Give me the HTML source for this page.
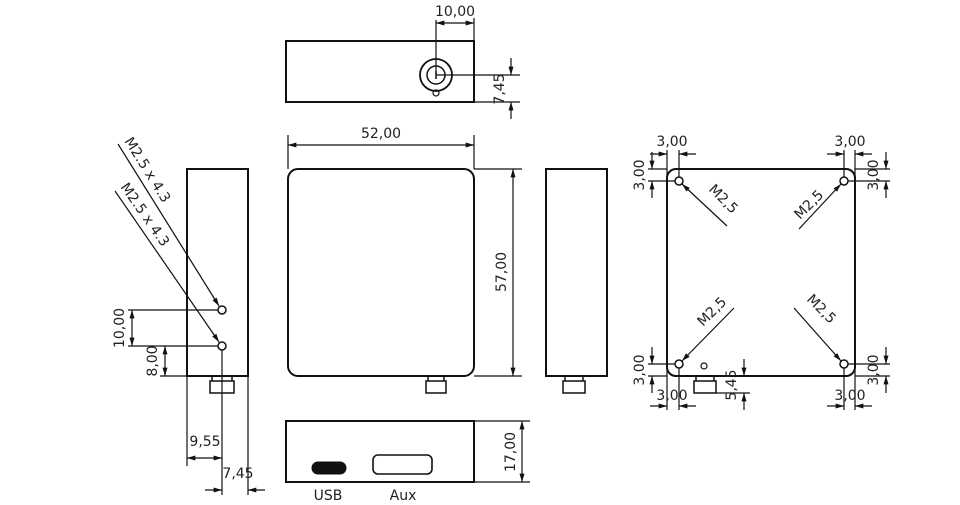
<!DOCTYPE html>
<html><head><meta charset="utf-8"><style>
html,body{margin:0;padding:0;background:#fff;width:960px;height:505px;overflow:hidden}
svg{display:block}
text{font-family:"DejaVu Sans","Liberation Sans",sans-serif;font-size:14px;fill:#222}
</style></head><body>
<svg width="960" height="505" viewBox="0 0 960 505" xmlns="http://www.w3.org/2000/svg">
<defs>
<marker id="a" viewBox="0 0 10 6" refX="10" refY="3" markerWidth="9" markerHeight="5" orient="auto-start-reverse" markerUnits="userSpaceOnUse"><path d="M0,0L10,3L0,6z" fill="#111"/></marker>
</defs>
<g stroke="#111" fill="none">
<!-- top view -->
<rect x="286" y="41" width="188" height="61" stroke-width="2"/>
<circle cx="436" cy="75" r="16" stroke-width="1.8"/>
<circle cx="436" cy="75" r="9" stroke-width="1.5"/>
<line x1="436" y1="71" x2="436" y2="79" stroke-width="1.5"/>
<circle cx="436" cy="93" r="3" stroke-width="1.2"/>
<g stroke-width="1.2">
<line x1="436" y1="75" x2="436" y2="20"/><line x1="474" y1="41" x2="474" y2="18"/>
<line x1="436" y1="23" x2="474" y2="23" marker-start="url(#a)" marker-end="url(#a)"/>
<line x1="436" y1="75" x2="520" y2="75"/><line x1="474" y1="102" x2="520" y2="102"/>
<line x1="511" y1="58" x2="511" y2="75" marker-end="url(#a)"/><line x1="511" y1="119" x2="511" y2="102" marker-end="url(#a)"/>
</g>
<!-- front -->
<rect x="288" y="169" width="186" height="207" rx="10" stroke-width="2"/>
<path d="M428,376v5h-2v12h20v-12h-2v-5M426,381h20" stroke-width="1.5"/>
<g stroke-width="1.2">
<line x1="288" y1="169" x2="288" y2="135"/><line x1="474" y1="169" x2="474" y2="135"/>
<line x1="288" y1="145" x2="474" y2="145" marker-start="url(#a)" marker-end="url(#a)"/>
<line x1="474" y1="169" x2="522" y2="169"/><line x1="474" y1="376" x2="522" y2="376"/>
<line x1="513" y1="169" x2="513" y2="376" marker-start="url(#a)" marker-end="url(#a)"/>
</g>
<!-- right side -->
<rect x="546" y="169" width="61" height="207" stroke-width="2"/>
<path d="M565,376v5h-2v12h22v-12h-2v-5M563,381h22" stroke-width="1.5"/>
<!-- left side -->
<rect x="187" y="169" width="61" height="207" stroke-width="2"/>
<path d="M212,376v5h-2v12h24v-12h-2v-5M210,381h24" stroke-width="1.5"/>
<circle cx="222" cy="310" r="4" stroke-width="1.5"/>
<circle cx="222" cy="346" r="4" stroke-width="1.5"/>
<g stroke-width="1.2">
<line x1="118" y1="144" x2="219" y2="306" marker-end="url(#a)"/>
<line x1="115" y1="191" x2="219" y2="342" marker-end="url(#a)"/>
<line x1="218" y1="310" x2="128" y2="310"/><line x1="218" y1="346" x2="128" y2="346"/>
<line x1="132" y1="310" x2="132" y2="346" marker-start="url(#a)" marker-end="url(#a)"/>
<line x1="187" y1="376" x2="160" y2="376"/>
<line x1="165" y1="346" x2="165" y2="376" marker-start="url(#a)" marker-end="url(#a)"/>
<line x1="187" y1="376" x2="187" y2="466"/><line x1="222" y1="350" x2="222" y2="495"/><line x1="248" y1="376" x2="248" y2="495"/>
<line x1="187" y1="458" x2="222" y2="458" marker-start="url(#a)" marker-end="url(#a)"/>
<line x1="205" y1="490" x2="222" y2="490" marker-end="url(#a)"/><line x1="265" y1="490" x2="248" y2="490" marker-end="url(#a)"/>
</g>
<!-- bottom view -->
<rect x="286" y="421" width="188" height="61" stroke-width="2"/>
<rect x="312" y="462" width="34" height="12" rx="6" fill="#111" stroke-width="1"/>
<rect x="373" y="455" width="59" height="19" rx="5" stroke-width="1.6"/>
<g stroke-width="1.2">
<line x1="474" y1="421" x2="530" y2="421"/><line x1="474" y1="482" x2="530" y2="482"/>
<line x1="522" y1="421" x2="522" y2="482" marker-start="url(#a)" marker-end="url(#a)"/>
</g>
<!-- plate -->
<rect x="667" y="169" width="188" height="207" rx="9" stroke-width="2"/>
<circle cx="679" cy="181" r="4" stroke-width="1.5"/>
<circle cx="844" cy="181" r="4" stroke-width="1.5"/>
<circle cx="679" cy="364" r="4" stroke-width="1.5"/>
<circle cx="844" cy="364" r="4" stroke-width="1.5"/>
<circle cx="704" cy="366" r="3" stroke-width="1.2"/>
<path d="M696,376v5h-2v12h22v-12h-2v-5M694,381h22" stroke-width="1.5"/>
<g stroke-width="1.2">
<line x1="727" y1="226" x2="682" y2="184" marker-end="url(#a)"/>
<line x1="799" y1="229" x2="841" y2="184" marker-end="url(#a)"/>
<line x1="734" y1="308" x2="682" y2="361" marker-end="url(#a)"/>
<line x1="794" y1="308" x2="841" y2="361" marker-end="url(#a)"/>
<line x1="667" y1="181" x2="667" y2="150"/><line x1="679" y1="177" x2="679" y2="150"/>
<line x1="650" y1="154" x2="667" y2="154" marker-end="url(#a)"/><line x1="696" y1="154" x2="679" y2="154" marker-end="url(#a)"/>
<line x1="667" y1="169" x2="648" y2="169"/><line x1="675" y1="181" x2="648" y2="181"/>
<line x1="652" y1="152" x2="652" y2="169" marker-end="url(#a)"/><line x1="652" y1="198" x2="652" y2="181" marker-end="url(#a)"/>
<line x1="855" y1="181" x2="855" y2="150"/><line x1="844" y1="177" x2="844" y2="150"/>
<line x1="827" y1="154" x2="844" y2="154" marker-end="url(#a)"/><line x1="872" y1="154" x2="855" y2="154" marker-end="url(#a)"/>
<line x1="855" y1="169" x2="890" y2="169"/><line x1="848" y1="181" x2="890" y2="181"/>
<line x1="886" y1="152" x2="886" y2="169" marker-end="url(#a)"/><line x1="886" y1="198" x2="886" y2="181" marker-end="url(#a)"/>
<line x1="667" y1="364" x2="667" y2="410"/><line x1="679" y1="368" x2="679" y2="410"/>
<line x1="650" y1="406" x2="667" y2="406" marker-end="url(#a)"/><line x1="696" y1="406" x2="679" y2="406" marker-end="url(#a)"/>
<line x1="675" y1="364" x2="648" y2="364"/><line x1="667" y1="376" x2="648" y2="376"/>
<line x1="652" y1="347" x2="652" y2="364" marker-end="url(#a)"/><line x1="652" y1="393" x2="652" y2="376" marker-end="url(#a)"/>
<line x1="855" y1="364" x2="855" y2="410"/><line x1="844" y1="368" x2="844" y2="410"/>
<line x1="827" y1="406" x2="844" y2="406" marker-end="url(#a)"/><line x1="872" y1="406" x2="855" y2="406" marker-end="url(#a)"/>
<line x1="848" y1="364" x2="890" y2="364"/><line x1="855" y1="376" x2="890" y2="376"/>
<line x1="886" y1="347" x2="886" y2="364" marker-end="url(#a)"/><line x1="886" y1="393" x2="886" y2="376" marker-end="url(#a)"/>
<line x1="716" y1="393" x2="750" y2="393"/>
<line x1="744" y1="359" x2="744" y2="376" marker-end="url(#a)"/><line x1="744" y1="410" x2="744" y2="393" marker-end="url(#a)"/>
</g>
</g>
<!-- text -->
<text x="455" y="16" text-anchor="middle">10,00</text>
<text transform="translate(504,89) rotate(-90)" text-anchor="middle">7,45</text>
<text x="381" y="138" text-anchor="middle">52,00</text>
<text transform="translate(506,272) rotate(-90)" text-anchor="middle">57,00</text>
<text transform="translate(515,452) rotate(-90)" text-anchor="middle">17,00</text>
<text x="328" y="500" text-anchor="middle">USB</text>
<text x="403" y="500" text-anchor="middle">Aux</text>
<text transform="translate(124,141) rotate(58)">M2.5 x 4.3</text>
<text transform="translate(120,187) rotate(55)">M2.5 x 4.3</text>
<text transform="translate(124,328) rotate(-90)" text-anchor="middle">10,00</text>
<text transform="translate(157,361) rotate(-90)" text-anchor="middle">8,00</text>
<text x="205" y="446" text-anchor="middle">9,55</text>
<text x="238" y="478" text-anchor="middle">7,45</text>
<text x="672" y="146" text-anchor="middle">3,00</text>
<text x="850" y="146" text-anchor="middle">3,00</text>
<text x="672" y="400" text-anchor="middle">3,00</text>
<text x="850" y="400" text-anchor="middle">3,00</text>
<text transform="translate(644,175) rotate(-90)" text-anchor="middle">3,00</text>
<text transform="translate(878,175) rotate(-90)" text-anchor="middle">3,00</text>
<text transform="translate(644,370) rotate(-90)" text-anchor="middle">3,00</text>
<text transform="translate(878,370) rotate(-90)" text-anchor="middle">3,00</text>
<text transform="translate(736,385) rotate(-90)" text-anchor="middle">5,45</text>
<text transform="translate(708,190) rotate(45)">M2,5</text>
<text transform="translate(800,220) rotate(-45)">M2,5</text>
<text transform="translate(703,327) rotate(-45)">M2,5</text>
<text transform="translate(806,300) rotate(45)">M2,5</text>
</svg>
</body></html>
